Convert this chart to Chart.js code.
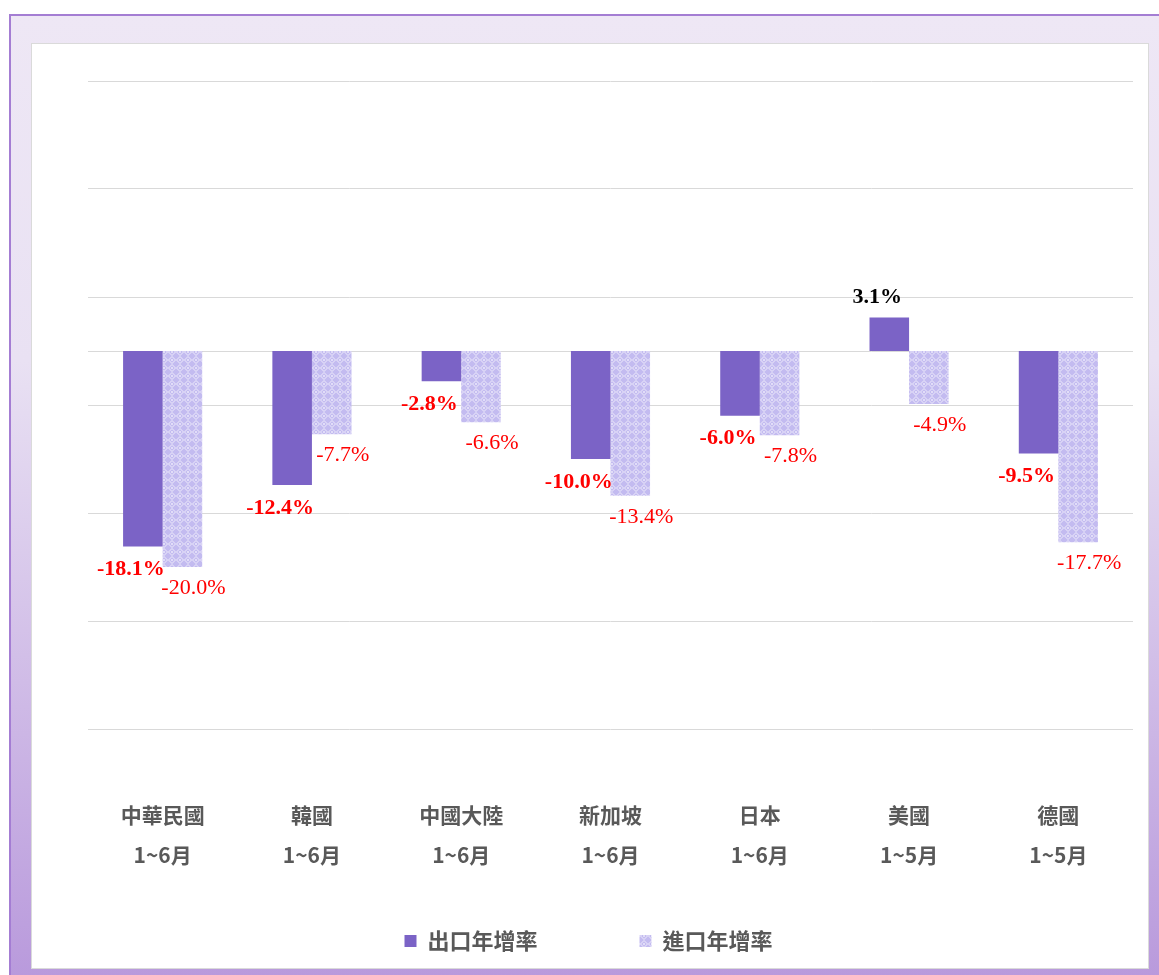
<!DOCTYPE html>
<html>
<head>
<meta charset="utf-8">
<script src="https://cdn.jsdelivr.net/npm/chart.js@4.4.0/dist/chart.umd.min.js"></script>
<style>
  html, body { margin: 0; padding: 0; background: #fff; }
  body { width: 1159px; height: 975px; overflow: hidden; position: relative; }
  .frame {
    position: absolute; left: 9px; top: 14px; width: 1170px; height: 990px;
    border: 2px solid #A47DD3; box-sizing: border-box;
    background: linear-gradient(to bottom, #EEE7F5 0%, #E9E1F3 35%, #B797DB 100%);
  }
  .panel {
    position: absolute; left: 31px; top: 43px; width: 1118px; height: 926px;
    background: #fff; border: 1px solid #DADADA; box-sizing: border-box;
  }
  .panel canvas { position: absolute; left: 0; top: 0; }
</style>
</head>
<body>
<div class="frame"></div>
<div class="panel"><canvas id="chart" width="1116" height="924"></canvas></div>
<script>
/* DATA */
const categories = [
    ["中華民國", "1~6月"],
    ["韓國", "1~6月"],
    ["中國大陸", "1~6月"],
    ["新加坡", "1~6月"],
    ["日本", "1~6月"],
    ["美國", "1~5月"],
    ["德國", "1~5月"]
];
const exportGrowth = [-18.1, -12.4, -2.8, -10.0, -6.0, 3.1, -9.5];
const importGrowth = [-20.0, -7.7, -6.6, -13.4, -7.8, -4.9, -17.7];
const seriesNames = ["出口年增率", "進口年增率"];

/* crosshatch fill for the import bars */
function makePattern() {
    const c = document.createElement("canvas");
    c.width = 8; c.height = 8;
    const g = c.getContext("2d");
    g.fillStyle = "#C3BBF0";
    g.fillRect(0, 0, 8, 8);
    g.strokeStyle = "rgba(255,255,255,0.7)";
    g.lineWidth = 1;
    g.beginPath();
    g.moveTo(4, 0.5); g.lineTo(7.5, 4); g.lineTo(4, 7.5); g.lineTo(0.5, 4);
    g.closePath();
    g.stroke();
    g.fillStyle = "rgba(255,255,255,0.5)";
    g.fillRect(3, 3, 2, 2);
    return g.createPattern(c, "repeat");
}
const hatch = makePattern();

/* zero line */
const zeroLine = {
    id: "zeroLine",
    beforeDatasetsDraw(chart) {
        const { ctx, chartArea, scales } = chart;
        const y = Math.round(scales.y.getPixelForValue(0)) + 0.5;
        ctx.save();
        ctx.strokeStyle = "#D9D9D9";
        ctx.lineWidth = 1;
        ctx.beginPath();
        ctx.moveTo(chartArea.left, y);
        ctx.lineTo(chartArea.right, y);
        ctx.stroke();
        ctx.restore();
    }
};

/* value labels */
const valueLabels = {
    id: "valueLabels",
    afterDatasetsDraw(chart) {
        const ctx = chart.ctx;
        chart.data.datasets.forEach((ds, di) => {
            const meta = chart.getDatasetMeta(di);
            meta.data.forEach((bar, i) => {
                const v = ds.data[i];
                const dx = di === 0 ? -12 : 11;
                const dy = v < 0 ? (di === 0 ? 23 : 21) : -20;
                ctx.save();
                ctx.font = (di === 0 ? "bold " : "") + "22px 'Liberation Serif'";
                ctx.fillStyle = v < 0 ? "#FF0000" : "#000000";
                ctx.textAlign = "center";
                ctx.textBaseline = "middle";
                ctx.fillText(v.toFixed(1) + "%", bar.x + dx, bar.y + dy);
                ctx.restore();
            });
        });
    }
};

new Chart(document.getElementById("chart"), {
    type: "bar",
    data: {
        labels: categories,
        datasets: [{
            label: seriesNames[0],
            data: exportGrowth,
            backgroundColor: "#7B63C6",
            borderWidth: 0
        }, {
            label: seriesNames[1],
            data: importGrowth,
            backgroundColor: hatch,
            borderWidth: 0
        }]
    },
    options: {
        responsive: false,
        animation: false,
        layout: { padding: { left: 56, right: 15, top: 37, bottom: 6 } },
        datasets: { bar: { barPercentage: 1, categoryPercentage: 0.53 } },
        scales: {
            x: {
                grid: { display: false, drawTicks: false },
                border: { display: false },
                afterFit: s => {
                    s.height = 143;
                    s.paddingLeft = 0;
                    s.paddingRight = 0;
                },
                ticks: {
                    padding: 66,
                    color: "#595959",
                    font: { family: "'Noto Sans CJK TC'", size: 21, weight: "bold", lineHeight: 1.9 },
                    maxRotation: 0
                }
            },
            y: {
                min: -35,
                max: 25,
                afterFit: s => { s.width = 0; },
                ticks: { display: false, stepSize: 10 },
                grid: { color: "#D9D9D9", lineWidth: 1, drawTicks: false },
                border: { display: false }
            }
        },
        plugins: {
            tooltip: { enabled: false },
            legend: {
                position: "bottom",
                labels: {
                    boxWidth: 12,
                    boxHeight: 12,
                    padding: 58,
                    color: "#595959",
                    font: { family: "'Noto Sans CJK TC'", size: 22, weight: "bold" },
                    generateLabels(chart) {
                        const items = Chart.defaults.plugins.legend.labels.generateLabels(chart);
                        // widen the gap after the first entry, pull the row a bit left
                        items[0].text = items[0].text + "\u3000\u3000";
                        items[1].text = items[1].text + "\u3000\u3000";
                        return items;
                    }
                }
            }
        }
    },
    plugins: [zeroLine, valueLabels]
});
</script>
</body>
</html>
